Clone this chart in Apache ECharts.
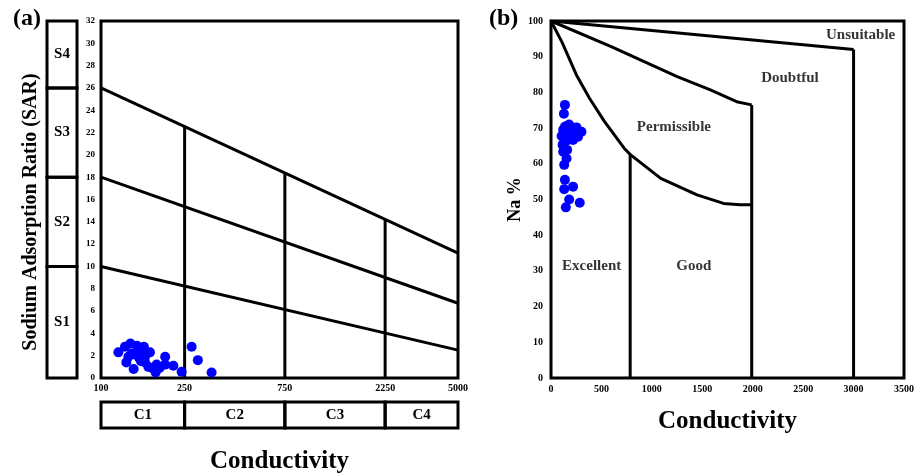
<!DOCTYPE html>
<html><head><meta charset="utf-8">
<script src="https://cdn.jsdelivr.net/npm/echarts@6/dist/echarts.min.js"></script>
<style>html,body{margin:0;padding:0;background:#fff}#c{width:917px;height:475px}</style>
</head><body><div id="c"></div>
<script>
// ---------- (a) USSL diagram ----------
const ecTicksA = [100, 250, 750, 2250, 5000];
const sarMin = 0, sarMax = 32, sarStep = 2;
const sClassBounds = [0, 10, 18, 26, 32];
const sClassNames = ['S1', 'S2', 'S3', 'S4'];
const cClassBounds = [100, 250, 750, 2250, 5000];
const cClassNames = ['C1', 'C2', 'C3', 'C4'];
const ussLine1 = [[100, 26], [5000, 11.2]];
const ussLine2 = [[100, 18], [5000, 6.7]];
const ussLine3 = [[100, 10], [5000, 2.5]];
const ussVert250 = [[250, 0], [250, 22.6]];
const ussVert750 = [[750, 0], [750, 18.4]];
const ussVert2250 = [[2250, 0], [2250, 14.2]];
const samplesA = [
  [121, 2.3], [130, 2.8], [138, 3.1], [148, 2.9], [158, 2.5], [171, 2.3],
  [132, 1.4], [143, 0.8], [155, 1.5], [162, 1.4], [168, 1.0], [184, 1.2],
  [182, 0.5], [202, 1.9], [202, 1.2], [221, 1.1], [242, 0.55], [270, 2.8],
  [289, 1.6], [336, 0.5], [145, 2.1], [162, 1.9], [150, 2.5], [140, 2.2],
  [175, 0.9], [152, 1.8], [190, 0.9], [135, 1.9], [160, 2.8]
];

// ---------- (b) Wilcox diagram ----------
const ecTicksB = [0, 500, 1000, 1500, 2000, 2500, 3000, 3500];
const naMin = 0, naMax = 100, naStep = 10;
const lineUnsuitable = [[0, 100], [3000, 92]];
const vertUnsuitable = [[3000, 92], [3000, 0]];
const lineDoubtful = [[0, 100], [597, 92.8], [924, 88.6], [1251, 84.4], [1580, 80.7], [1841, 77.4], [1990, 76.5]];
const vertDoubtful = [[1990, 76.5], [1990, 0]];
const linePermissible = [[0, 100], [110, 94], [252, 84.9], [383, 78.3], [531, 71.8], [727, 64.3], [790, 62.5],
  [1088, 55.9], [1448, 51.3], [1710, 48.9], [1874, 48.5], [1990, 48.5]];
const vertGood = [[785, 62.6], [785, 0]];
const regionNames = ['Unsuitable', 'Doubtful', 'Permissible', 'Excellent', 'Good'];
const regionPos = [[3070, 96.1], [2369, 84.0], [1219, 70.3], [403, 31.4], [1416, 31.4]];
const samplesB = [
  [138, 76.5], [128, 74], [121, 69.5], [138, 70.4], [154, 70.6], [203, 69.9],
  [253, 70.2], [302, 69.0], [268, 67.6], [219, 66.7], [170, 66.7], [187, 68.5],
  [105, 67.8], [115, 65.3], [121, 63.4], [160, 63.9], [154, 61.5], [131, 59.7],
  [138, 55.5], [131, 52.9], [219, 53.6], [180, 50.0], [285, 49.1], [147, 47.8],
  [230, 68], [180, 71], [150, 68], [200, 67], [240, 69.5], [130, 66]
];

const F = 'Liberation Serif, Times New Roman, serif';
const BLUE = '#0000ff';
const lineStyle = { color: '#000', width: 3 };
const chart = echarts.init(document.getElementById('c'));

function seg(data, xi, yi) {
  return { type: 'line', data: data, xAxisIndex: xi, yAxisIndex: yi, symbol: 'none',
    lineStyle: lineStyle, silent: true, z: 3, animation: false };
}
function areas(bounds, names, key) {
  const out = [];
  for (let i = 0; i < names.length; i++) {
    const a = {}; a[key] = bounds[i]; a.name = names[i];
    const b = {}; b[key] = bounds[i + 1];
    out.push([a, b]);
  }
  return out;
}
const boxLabel = { show: true, position: 'inside', color: '#000', fontFamily: F, fontWeight: 'bold', fontSize: 15 };
const boxStyle = { color: 'rgba(0,0,0,0)', borderColor: '#000', borderWidth: 3 };

const option = {
  animation: false,
  backgroundColor: '#fff',
  title: [
    { text: '(a)', left: 8, top: 2, textStyle: { fontFamily: F, fontWeight: 'bold', fontSize: 24, color: '#000' } },
    { text: '(b)', left: 484, top: 2, textStyle: { fontFamily: F, fontWeight: 'bold', fontSize: 24, color: '#000' } }
  ],
  grid: [
    { left: 101, top: 21, width: 357, height: 357, show: true, borderColor: '#000', borderWidth: 3, backgroundColor: 'transparent' },
    { left: 47, top: 21, width: 30, height: 357 },
    { left: 101, top: 402, width: 357, height: 26 },
    { left: 551, top: 21, width: 356, height: 357, show: true, borderColor: '#000', borderWidth: 3, backgroundColor: 'transparent' }
  ],
  xAxis: [
    { gridIndex: 0, type: 'log', logBase: 10, min: 100, max: 5000,
      axisLine: { show: false }, axisTick: { show: false }, splitLine: { show: false },
      axisLabel: { customValues: ecTicksA, margin: 5, color: '#000', fontFamily: F, fontWeight: 'bold', fontSize: 10,
        showMinLabel: true, showMaxLabel: true, formatter: v => String(Math.round(v)) } },
    { gridIndex: 1, type: 'value', min: 0, max: 1, show: false },
    { gridIndex: 2, type: 'log', logBase: 10, min: 100, max: 5000,
      axisLine: { show: false }, axisTick: { show: false }, splitLine: { show: false }, axisLabel: { show: false },
      name: 'Conductivity', nameLocation: 'middle', nameGap: 21,
      nameTextStyle: { fontFamily: F, fontWeight: 'bold', fontSize: 25, color: '#000', verticalAlign: 'top' } },
    { gridIndex: 3, type: 'value', min: 0, max: 3500, interval: 500,
      axisLine: { show: false }, axisTick: { show: false }, splitLine: { show: false },
      axisLabel: { customValues: ecTicksB, margin: 6, color: '#000', fontFamily: F, fontWeight: 'bold', fontSize: 10,
        formatter: v => String(v) },
      name: 'Conductivity', nameLocation: 'middle', nameGap: 31,
      nameTextStyle: { fontFamily: F, fontWeight: 'bold', fontSize: 25, color: '#000', verticalAlign: 'top' } }
  ],
  yAxis: [
    { gridIndex: 0, type: 'value', min: sarMin, max: sarMax, interval: sarStep,
      axisLine: { show: false }, axisTick: { show: false }, splitLine: { show: false },
      axisLabel: { margin: 6, color: '#000', fontFamily: F, fontWeight: 'bold', fontSize: 9 } },
    { gridIndex: 1, type: 'value', min: sarMin, max: sarMax, show: true,
      axisLine: { show: false }, axisTick: { show: false }, splitLine: { show: false }, axisLabel: { show: false },
      name: 'Sodium Adsorption Ratio (SAR)', nameLocation: 'middle', nameGap: 6, nameRotate: 90,
      nameTextStyle: { fontFamily: F, fontWeight: 'bold', fontSize: 20, color: '#000', padding: [0, 0, 0, -25] } },
    { gridIndex: 2, type: 'value', min: 0, max: 1, show: false },
    { gridIndex: 3, type: 'value', min: naMin, max: naMax, interval: naStep,
      axisLine: { show: false }, axisTick: { show: false }, splitLine: { show: false },
      axisLabel: { margin: 8, color: '#000', fontFamily: F, fontWeight: 'bold', fontSize: 10 },
      name: 'Na %', nameLocation: 'middle', nameGap: 25, nameRotate: 90,
      nameTextStyle: { fontFamily: F, fontWeight: 'bold', fontSize: 18, color: '#000' } }
  ],
  series: [
    seg(ussLine1, 0, 0), seg(ussLine2, 0, 0), seg(ussLine3, 0, 0),
    seg(ussVert250, 0, 0), seg(ussVert750, 0, 0), seg(ussVert2250, 0, 0),
    { type: 'scatter', name: 'SAR samples', xAxisIndex: 0, yAxisIndex: 0, data: samplesA,
      symbolSize: 10, itemStyle: { color: BLUE, opacity: 1 }, z: 5 },
    { type: 'line', xAxisIndex: 1, yAxisIndex: 1, data: [], silent: true,
      markArea: { silent: true, itemStyle: boxStyle, label: boxLabel, data: areas(sClassBounds, sClassNames, 'yAxis') } },
    { type: 'line', xAxisIndex: 2, yAxisIndex: 2, data: [], silent: true,
      markArea: { silent: true, itemStyle: boxStyle, label: boxLabel, data: areas(cClassBounds, cClassNames, 'xAxis') } },
    seg(lineUnsuitable, 3, 3), seg(vertUnsuitable, 3, 3),
    seg(lineDoubtful, 3, 3), seg(vertDoubtful, 3, 3),
    seg(linePermissible, 3, 3), seg(vertGood, 3, 3),
    { type: 'scatter', xAxisIndex: 3, yAxisIndex: 3, silent: true, symbolSize: 1,
      itemStyle: { color: 'rgba(0,0,0,0)' },
      label: { show: true, position: 'inside', formatter: '{b}', color: '#000', fontFamily: F, fontWeight: 'bold', fontSize: 15 },
      data: regionNames.map((n, i) => ({ name: n, value: regionPos[i] })) },
    { type: 'scatter', name: 'Na samples', xAxisIndex: 3, yAxisIndex: 3, data: samplesB,
      symbolSize: 10, itemStyle: { color: BLUE, opacity: 1 }, z: 5 }
  ]
};
chart.setOption(option);
</script>
</body></html>
